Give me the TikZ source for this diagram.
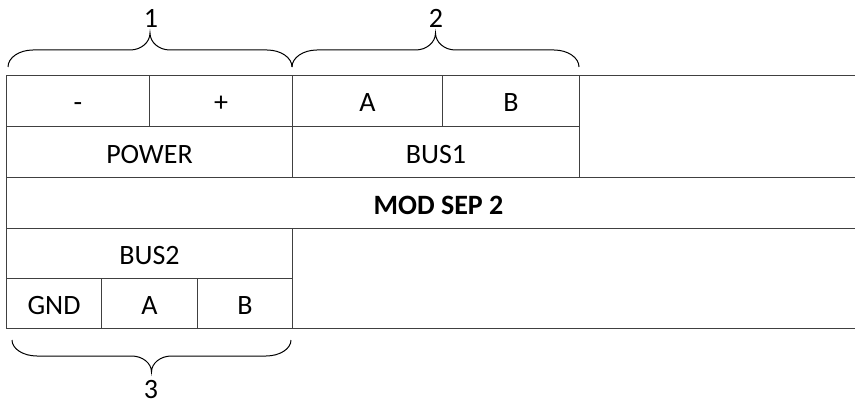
\documentclass[tikz,border=0pt]{standalone}
\usepackage{fontspec}
\setmainfont{Carlito}
\usetikzlibrary{calc}
\definecolor{linec}{RGB}{64,64,64}
\newcommand\cellfont{\fontsize{21}{25}\selectfont}
\tikzset{
  cell/.style={draw=linec, line width=0.75pt, anchor=north west, inner sep=0pt,
    text height=16.5pt, text depth=0pt, font=\cellfont},
  lbl/.style={inner sep=0pt, font=\cellfont},
  bracestyle/.style={draw=black, line width=0.75pt}
}
\newcommand\cellat[6]{\node[cell, minimum width={#4*0.75pt}, minimum height={#5*0.75pt}] (#1) at (#2,#3) {#6};}
\newcommand\drawbrace[3]{%
 \draw[bracestyle] let \p1=(#1), \p2=(#2) in
 (\p1) .. controls ({\x1}, {\y1+0.552*(#3)}) and ({\x1+8.4pt}, {\y1+1*(#3)}) .. ({\x1+18.75pt}, {\y1+1*(#3)})
 -- ({(\x1+\x2)/2-15pt}, {\y1+1*(#3)})
 .. controls ({(\x1+\x2)/2-6.72pt}, {\y1+1*(#3)}) and ({(\x1+\x2)/2}, {\y1+1.448*(#3)}) .. ({(\x1+\x2)/2}, {\y1+2*(#3)})
 .. controls ({(\x1+\x2)/2}, {\y1+1.448*(#3)}) and ({(\x1+\x2)/2+6.72pt}, {\y1+1*(#3)}) .. ({(\x1+\x2)/2+15pt}, {\y1+1*(#3)})
 -- ({\x2-18.75pt}, {\y1+1*(#3)})
 .. controls ({\x2-8.4pt}, {\y1+1*(#3)}) and ({\x2}, {\y1+0.552*(#3)}) .. (\p2);}
\begin{document}
\begin{tikzpicture}[x=0.75pt, y=-0.75pt]
\useasboundingbox (0,0) rectangle (855,406);
% top rows
\cellat{minus}{6}{75}{143}{51}{-}
\cellat{plus}{149}{75}{143}{51}{+}
\cellat{a1}{292}{75}{150}{51}{A}
\cellat{b1}{442}{75}{137}{51}{B}
\cellat{topright}{579}{75}{290}{102}{}
\cellat{power}{6}{126}{286}{51}{POWER}
\cellat{bus1}{292}{126}{287}{51}{BUS1}
% middle
\cellat{modsep}{6}{177}{864}{51}{\textbf{MOD SEP 2}}
% bottom
\cellat{bus2}{6}{228}{286}{50}{BUS2}
\cellat{gnd}{6}{278}{95}{50}{GND}
\cellat{a2}{101}{278}{96}{50}{A}
\cellat{b2}{197}{278}{95}{50}{B}
\cellat{bottomright}{292}{228}{578}{100}{}
% braces
\coordinate (b1l) at (8,67);
\coordinate (b1r) at (292,67);
\coordinate (b2l) at (292,67);
\coordinate (b2r) at (579,67);
\coordinate (b3l) at (12,340);
\coordinate (b3r) at (291,340);
\drawbrace{b1l}{b1r}{12.75pt}
\drawbrace{b2l}{b2r}{12.75pt}
\drawbrace{b3l}{b3r}{-12pt}
\node[lbl] (l1) at (151,18) {1};
\node[lbl] (l2) at (436,18) {2};
\node[lbl] (l3) at (151,390) {3};
\end{tikzpicture}
\end{document}
